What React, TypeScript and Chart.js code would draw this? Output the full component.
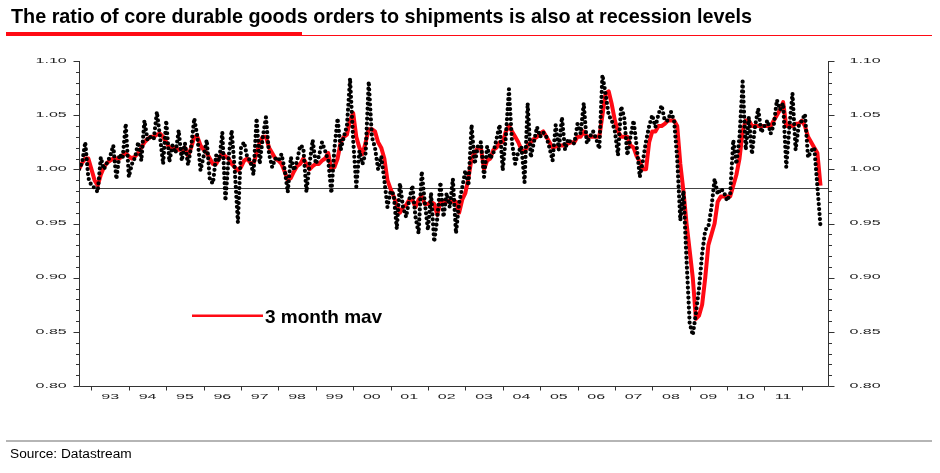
import React, { useEffect, useRef } from 'react';
import { Chart, registerables } from 'chart.js';

Chart.register(...registerables);

// Monthly data, starting September 1992
const START_YEAR = 1992;
const START_MONTH = 9;

// Ratio of core durable goods orders to shipments (monthly)
const ratio: number[] = [
  1.000, 1.006, 1.025, 0.992, 0.985, 0.983, 0.979, 1.011, 1.000, 1.006,
  1.012, 1.022, 0.991, 1.014, 1.010, 1.042, 0.993, 1.005, 1.011, 1.025,
  1.008, 1.045, 1.027, 1.030, 1.028, 1.053, 1.030, 1.005, 1.045, 1.007,
  1.022, 1.015, 1.036, 1.008, 1.024, 1.004, 1.021, 1.047, 1.030, 0.999,
  1.012, 1.027, 0.990, 0.987, 1.013, 1.008, 1.034, 0.971, 1.010, 1.036,
  0.999, 0.951, 1.020, 1.025, 1.011, 1.008, 0.995, 1.047, 1.005, 1.030,
  1.048, 1.014, 1.002, 1.010, 1.008, 1.014, 1.000, 0.979, 1.011, 0.999,
  1.008, 1.022, 1.020, 0.979, 1.005, 1.027, 1.005, 1.012, 1.025, 1.017,
  1.008, 0.978, 1.020, 1.047, 1.018, 1.030, 1.040, 1.084, 1.027, 0.984,
  1.017, 1.005, 1.015, 1.081, 1.030, 1.020, 1.000, 1.012, 0.990, 0.965,
  0.980, 0.977, 0.945, 0.987, 0.965, 0.956, 0.972, 0.985, 0.956, 0.941,
  0.998, 0.969, 0.944, 0.978, 0.933, 0.955, 0.988, 0.956, 0.978, 0.965,
  0.991, 0.941, 0.969, 0.983, 0.999, 0.985, 1.041, 1.005, 1.021, 1.025,
  0.993, 1.021, 1.010, 1.015, 1.028, 1.041, 0.999, 1.030, 1.074, 1.024,
  1.005, 1.016, 1.021, 0.988, 1.061, 1.011, 1.025, 1.039, 1.030, 1.034,
  1.030, 1.020,
  1.008, 1.041, 1.018, 1.048, 1.018, 1.028, 1.024, 1.024, 1.042, 1.033,
  1.061, 1.024, 1.030, 1.035, 1.028, 1.019, 1.087, 1.070, 1.050, 1.045,
  1.035, 1.013, 1.058, 1.048, 1.013, 1.030, 1.045, 1.021, 0.993, 1.008,
  1.026, 1.040, 1.050, 1.039, 1.051, 1.059, 1.045, 1.045, 1.053, 1.045,
  1.010, 0.953, 0.980, 0.916, 0.858, 0.847, 0.867, 0.890, 0.922, 0.944,
  0.947, 0.965, 0.991, 0.977, 0.982, 0.979, 0.971, 0.977, 1.027, 1.005,
  1.030, 1.081, 1.018, 1.048, 1.014, 1.040, 1.056, 1.034, 1.040, 1.045,
  1.033, 1.041, 1.064, 1.055, 1.061, 1.002, 1.039, 1.070, 1.018, 1.040,
  1.045, 1.051, 1.011, 1.017, 1.020, 0.984, 0.947,
];

// 3 month moving average (monthly)
const mav3: number[] = [
  1.000, 1.006, 1.010, 1.010, 1.000, 0.990, 0.985, 0.995, 1.002, 1.006,
  1.008, 1.010, 1.010, 1.010, 1.013, 1.015, 1.012, 1.010, 1.012, 1.015,
  1.020, 1.025, 1.028, 1.030, 1.030, 1.032, 1.033, 1.030, 1.025, 1.020,
  1.020, 1.020, 1.018, 1.018, 1.020, 1.012, 1.020, 1.030, 1.030, 1.022,
  1.018, 1.015, 1.010, 1.005, 1.005, 1.010, 1.015, 1.012, 1.010, 1.005,
  1.002, 0.999, 1.002, 1.008, 1.010, 1.006, 1.005, 1.015, 1.025, 1.030,
  1.030, 1.020, 1.015, 1.010, 1.008, 1.005, 0.998, 0.990, 0.992, 0.998,
  1.003, 1.005, 1.010, 1.005, 1.000, 1.003, 1.005, 1.005, 1.008, 1.010,
  1.015, 1.000, 1.002, 1.010, 1.025, 1.030, 1.032, 1.045, 1.052, 1.030,
  1.020, 1.014, 1.025, 1.037, 1.037, 1.035, 1.025, 1.020, 1.010, 0.990,
  0.982, 0.975, 0.967, 0.960, 0.965, 0.967, 0.972, 0.972, 0.965, 0.972,
  0.975, 0.968, 0.968, 0.970, 0.968, 0.958, 0.970, 0.970, 0.970, 0.971,
  0.970, 0.970, 0.960, 0.972, 0.978, 0.992, 1.010, 1.015, 1.020, 1.020,
  1.000, 1.008, 1.010, 1.018, 1.020, 1.025, 1.025, 1.035, 1.040, 1.035,
  1.030, 1.025, 1.018, 1.016, 1.022, 1.025, 1.028, 1.030, 1.033, 1.035,
  1.030, 1.025,
  1.020, 1.021, 1.022, 1.022, 1.022, 1.024, 1.025, 1.025, 1.030, 1.030,
  1.035, 1.030, 1.030, 1.030, 1.030, 1.030, 1.050, 1.070, 1.072, 1.060,
  1.045, 1.035, 1.030, 1.030, 1.030, 1.022, 1.020, 1.012, 1.007, 1.000,
  1.000, 1.025, 1.035, 1.035, 1.040, 1.040, 1.042, 1.045, 1.045, 1.045,
  1.040, 1.005, 0.980, 0.950, 0.925, 0.900, 0.862, 0.865, 0.875, 0.900,
  0.930, 0.940, 0.950, 0.970, 0.975, 0.975, 0.975, 0.975, 0.985, 0.995,
  1.010, 1.035, 1.045, 1.045, 1.040, 1.040, 1.040, 1.040, 1.040, 1.040,
  1.040, 1.045, 1.050, 1.055, 1.062, 1.040, 1.040, 1.040, 1.042, 1.042,
  1.045, 1.040, 1.030, 1.025, 1.020, 1.015, 0.985,
];

const yearLabels: string[] = [
  '93', '94', '95', '96', '97', '98', '99', '00', '01', '02',
  '03', '04', '05', '06', '07', '08', '09', '10', '11',
];
const FIRST_LABEL_YEAR = 1993;
const yTickLabels: string[] = ['0.80', '0.85', '0.90', '0.95', '1.00', '1.05', '1.10'];
const REF_LEVEL = 0.983;
const Y_MIN = 0.8;
const Y_MAX = 1.1;
const X_MIN = 1992 + 8 / 12;
const X_MAX = 2012.7;

const TITLE = 'The ratio of core durable goods orders to shipments is also at recession levels';
const LEGEND_LABEL = '3 month mav';
const SOURCE = 'Source: Datastream';

const RED = '#ff0a14';

const monthToYear = (i: number) => START_YEAR + (START_MONTH - 1 + i) / 12;

const customAxes = {
  id: 'customAxes',
  beforeDatasetsDraw(chart: any) {
    const { ctx, chartArea: a, scales } = chart;
    const y = scales.y;
    const ry = Math.round(y.getPixelForValue(REF_LEVEL)) + 0.5;
    ctx.save();
    ctx.strokeStyle = '#444';
    ctx.lineWidth = 1;
    ctx.beginPath();
    ctx.moveTo(a.left, ry);
    ctx.lineTo(a.right, ry);
    ctx.stroke();
    ctx.restore();
  },
  afterDraw(chart: any) {
    const { ctx, chartArea: a, scales } = chart;
    const x = scales.x;
    const y = scales.y;
    const L = a.left + 0.5;
    const R = a.right + 0.5;
    const B = a.bottom + 0.5;
    ctx.save();
    ctx.strokeStyle = '#333';
    ctx.lineWidth = 1;
    ctx.beginPath();
    ctx.moveTo(L, a.top);
    ctx.lineTo(L, B);
    ctx.lineTo(R, B);
    ctx.lineTo(R, a.top);
    ctx.stroke();

    // y ticks every 0.01, major every 0.05
    ctx.beginPath();
    for (let k = 80; k <= 110; k++) {
      const py = Math.round(y.getPixelForValue(k / 100)) + 0.5;
      const len = k % 5 === 0 ? 6 : 3.5;
      ctx.moveTo(L - len, py);
      ctx.lineTo(L, py);
      ctx.moveTo(R, py);
      ctx.lineTo(R + len, py);
    }
    // x ticks at start of each year
    for (let yr = 1993; yr <= 2012; yr++) {
      const px = Math.round(x.getPixelForValue(yr)) + 0.5;
      ctx.moveTo(px, B);
      ctx.lineTo(px, B + 4);
    }
    ctx.stroke();

    ctx.fillStyle = '#222';
    ctx.font = "8px 'Liberation Sans', Arial, sans-serif";
    ctx.textBaseline = 'middle';
    yTickLabels.forEach((lab) => {
      const py = y.getPixelForValue(parseFloat(lab)) - 0.5;
      ctx.save();
      ctx.translate(a.left - 12.3, py);
      ctx.scale(2, 1);
      ctx.textAlign = 'right';
      ctx.fillText(lab, 0, 0);
      ctx.restore();
      ctx.save();
      ctx.translate(a.right + 21.5, py);
      ctx.scale(2, 1);
      ctx.textAlign = 'left';
      ctx.fillText(lab, 0, 0);
      ctx.restore();
    });
    yearLabels.forEach((lab, i) => {
      const px = x.getPixelForValue(FIRST_LABEL_YEAR + i + 0.5);
      ctx.save();
      ctx.translate(px, a.bottom + 11);
      ctx.scale(2, 1);
      ctx.textAlign = 'center';
      ctx.fillText(lab, 0, 0);
      ctx.restore();
    });

    // legend
    ctx.strokeStyle = RED;
    ctx.lineWidth = 2.5;
    ctx.beginPath();
    ctx.moveTo(192, 315.7);
    ctx.lineTo(263, 315.7);
    ctx.stroke();
    ctx.fillStyle = '#000';
    ctx.font = "bold 19px 'Liberation Sans', Arial, sans-serif";
    ctx.textAlign = 'left';
    ctx.textBaseline = 'alphabetic';
    ctx.fillText(LEGEND_LABEL, 265, 323);
    ctx.restore();
  },
};

export default function App() {
  const ref = useRef<HTMLCanvasElement>(null);

  useEffect(() => {
    const canvas = ref.current;
    if (!canvas) return;
    const ratioPts = ratio.map((v, i) => ({ x: monthToYear(i), y: v }));
    const mavPts = mav3.map((v, i) => ({ x: monthToYear(i), y: v }));
    const chart = new Chart(canvas, {
      type: 'line',
      data: {
        datasets: [
          {
            label: 'Orders / shipments',
            data: ratioPts,
            borderColor: '#000',
            borderWidth: 4.2,
            borderDash: [0, 5],
            borderCapStyle: 'round',
            pointRadius: 0,
            tension: 0,
            order: 0,
          },
          {
            label: LEGEND_LABEL,
            data: mavPts,
            borderColor: RED,
            borderWidth: 4,
            borderJoinStyle: 'round',
            pointRadius: 0,
            tension: 0,
            order: 1,
          },
        ],
      },
      options: {
        responsive: false,
        animation: false,
        devicePixelRatio: 1,
        layout: { padding: { left: 79, right: 112, top: 61, bottom: 87 } },
        plugins: { legend: { display: false }, title: { display: false }, tooltip: { enabled: false } },
        scales: {
          x: { type: 'linear', min: X_MIN, max: X_MAX, display: false },
          y: { type: 'linear', min: Y_MIN, max: Y_MAX, display: false },
        },
      },
      plugins: [customAxes],
    } as any);
    return () => chart.destroy();
  }, []);

  return (
    <div
      style={{
        position: 'fixed',
        left: 0,
        top: 0,
        width: 940,
        height: 473,
        background: '#fff',
        overflow: 'hidden',
        fontFamily: "'Liberation Sans', Arial, sans-serif",
      }}
    >
      <canvas
        ref={ref}
        width={940}
        height={473}
        style={{ position: 'absolute', left: 0, top: 0, width: 940, height: 473 }}
      />
      <div
        style={{
          position: 'absolute',
          left: 11,
          top: 6,
          fontSize: 19.8,
          lineHeight: '20px',
          fontWeight: 'bold',
          color: '#000',
          whiteSpace: 'nowrap',
        }}
      >
        {TITLE}
      </div>
      <div style={{ position: 'absolute', left: 6, top: 32, width: 296, height: 4, background: RED }} />
      <div style={{ position: 'absolute', left: 302, top: 35, width: 630, height: 1, background: RED }} />
      <div style={{ position: 'absolute', left: 6, top: 440, width: 926, height: 2, background: '#b5b5b5' }} />
      <div
        style={{
          position: 'absolute',
          left: 10,
          top: 447,
          fontSize: 13.7,
          lineHeight: '14px',
          color: '#000',
          whiteSpace: 'nowrap',
        }}
      >
        {SOURCE}
      </div>
    </div>
  );
}
